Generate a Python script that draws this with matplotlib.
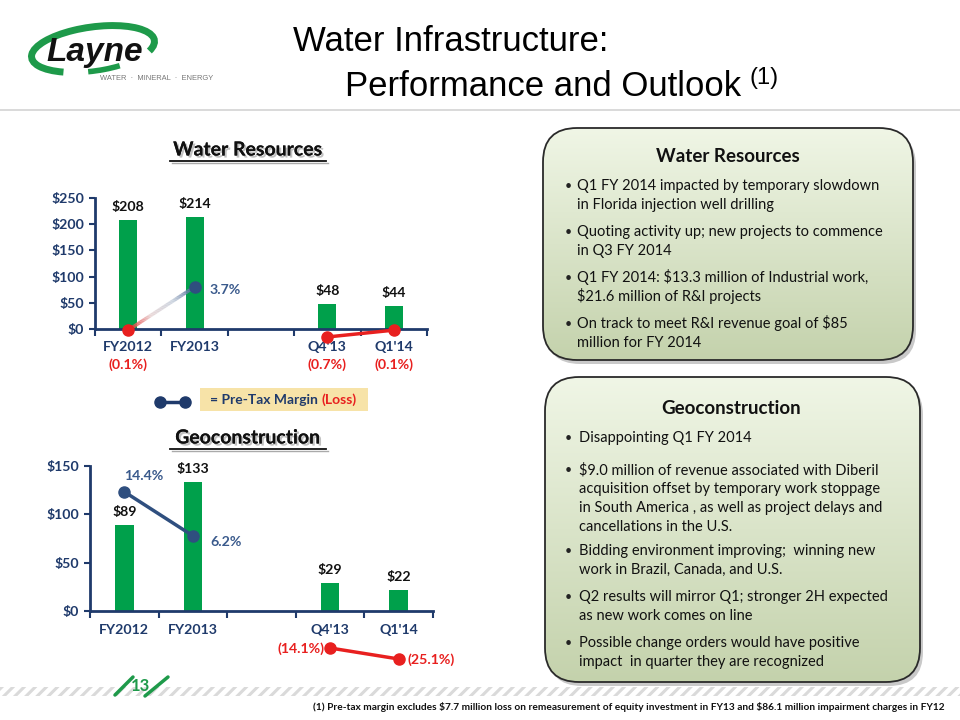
import numpy as np
import matplotlib
matplotlib.use("Agg")
import matplotlib.pyplot as plt
from matplotlib.patches import FancyBboxPatch, Rectangle, Arc
from matplotlib.collections import LineCollection
from matplotlib.colors import LinearSegmentedColormap
import matplotlib.patheffects as pe

plt.rcParams['font.family'] = ['Lato', 'DejaVu Sans']
plt.rcParams['hatch.linewidth'] = 2.2

# ---------------- data ----------------
slots = ["FY2012", "FY2013", "", "Q4'13", "Q1'14"]
wr_revenue = [208, 214, np.nan, 48, 44]
wr_margin = [-0.1, 3.7, np.nan, -0.7, -0.1]
geo_revenue = [89, 133, np.nan, 29, 22]
geo_margin = [14.4, 6.2, np.nan, -14.1, -25.1]
wr_yticks = [0, 50, 100, 150, 200, 250]
geo_yticks = [0, 50, 100, 150]

wr_box_title = "Water Resources"
wr_bullets = [
    "Q1 FY 2014 impacted by temporary slowdown\nin Florida injection well drilling",
    "Quoting activity up; new projects to commence\nin Q3 FY 2014",
    "Q1 FY 2014: $13.3 million of Industrial work,\n$21.6 million of R&I projects",
    "On track to meet R&I revenue goal of $85\nmillion for FY 2014",
]
geo_box_title = "Geoconstruction"
geo_bullets = [
    "Disappointing Q1 FY 2014",
    "$9.0 million of revenue associated with Diberil\nacquisition offset by temporary work stoppage\nin South America , as well as project delays and\ncancellations in the U.S.",
    "Bidding environment improving;  winning new\nwork in Brazil, Canada, and U.S.",
    "Q2 results will mirror Q1; stronger 2H expected\nas new work comes on line",
    "Possible change orders would have positive\nimpact  in quarter they are recognized",
]
footnote = ("(1) Pre-tax margin excludes $7.7 million loss on remeasurement of equity "
            "investment in FY13 and $86.1 million impairment charges in FY12")

# ---------------- style ----------------
GREEN = "#00A04B"
NAVY = "#1F3A6B"
LBLUE = "#3A5A8C"
RED = "#E8201F"
W, H = 960, 720


def esc(s):
    return s.replace("$", r"\$")


def rect(x0, y0, x1, y1):
    return [x0 / W, 1 - y1 / H, (x1 - x0) / W, (y1 - y0) / H]


def pct(v):
    return f"{v:.1f}%" if v >= 0 else f"({-v:.1f}%)"


fig = plt.figure(figsize=(9.6, 7.2), dpi=100)
canvas = fig.add_axes([0, 0, 1, 1], zorder=0)
canvas.axis('off')

# ---------------- header ----------------
canvas.text(293, 51, "Water Infrastructure:", fontsize=25,
            family=['Liberation Sans', 'DejaVu Sans'], va='baseline', color='black')
t2 = canvas.text(345, 96, "Performance and Outlook", fontsize=25,
                 family=['Liberation Sans', 'DejaVu Sans'], va='baseline', color='black')
canvas.annotate("(1)", xy=(1, 0), xycoords=t2, xytext=(8, 14), textcoords='offset pixels',
                fontsize=17, family=['Liberation Sans', 'DejaVu Sans'], va='bottom')
canvas.plot([0, 960], [110, 110], color='#D3D3D3', lw=1.2)

# logo
canvas.add_patch(Arc((93, 49), 124, 44, angle=-8, theta1=150, theta2=360 + 10,
                     color='#1E9A4A', lw=5))
canvas.add_patch(Arc((93, 49), 124, 44, angle=-8, theta1=40, theta2=110,
                     color='#1E9A4A', lw=4))
canvas.text(95, 53, "Layne", fontsize=24, style='italic', weight='bold',
            family=['Liberation Sans Narrow', 'Liberation Sans', 'DejaVu Sans'],
            ha='center', va='center', color='#111111')
canvas.text(100, 78, "WATER  ·  MINERAL  ·  ENERGY", fontsize=5.4,
            family=['Liberation Sans', 'DejaVu Sans'], color='#777777', va='center')

# ---------------- chart titles / legend ----------------
for (yc, title) in [(150, "Water Resources"), (438, "Geoconstruction")]:
    canvas.text(248, yc, title, fontsize=14, weight='bold', ha='center', va='center',
                color='#111111',
                path_effects=[pe.withSimplePatchShadow(offset=(1.5, -1.5), shadow_rgbFace='#999999', alpha=0.6),
                              pe.Normal()])
    canvas.plot([170, 326], [yc + 11, yc + 11], color='#111111', lw=1.3)
    canvas.plot([171.5, 327.5], [yc + 12.5, yc + 12.5], color='#AAAAAA', lw=1.0, zorder=1)

canvas.plot([160, 185], [402, 402], color=NAVY, lw=2.5, marker='o', ms=8)
canvas.add_patch(Rectangle((200, 388), 168, 23, fc='#F7E3A8', ec='none'))
lt = canvas.text(210, 400, "= Pre-Tax Margin ", fontsize=10, weight='bold', color=NAVY, va='center')
canvas.annotate("(Loss)", xy=(1, 0.5), xycoords=lt, xytext=(0, 0), textcoords='offset pixels',
                fontsize=10, weight='bold', color=RED, va='center')

# ---------------- right boxes ----------------
cmap = LinearSegmentedColormap.from_list('g', ['#F0F6E6', '#C4D2AC'])


def grad_box(x0, y0, x1, y1, r=34):
    w, h = x1 - x0, y1 - y0
    sh = FancyBboxPatch((x0 + 3, y0 + 4), w, h, boxstyle=f"round,pad=0,rounding_size={r}",
                        fc='#888888', ec='none', alpha=0.45, zorder=1)
    canvas.add_patch(sh)
    border = FancyBboxPatch((x0, y0), w, h, boxstyle=f"round,pad=0,rounding_size={r}",
                            fc='none', ec='#2A2A2A', lw=1.3, zorder=3)
    canvas.add_patch(border)
    grad = np.linspace(0, 1, 256).reshape(-1, 1)
    im = canvas.imshow(grad, cmap=cmap, extent=(x0, x1, y1, y0), aspect='auto', zorder=2)
    im.set_clip_path(border)


LINE_H = 19


def box_text(title, tx, ty, bullets, ys, bx, textx):
    canvas.text(tx, ty, title, fontsize=13.5, weight='bold', ha='center', va='center',
                color='#111111', zorder=4)
    for b, y in zip(bullets, ys):
        canvas.text(bx, y, "•", fontsize=9, va='center', ha='left', color='#222222', zorder=4)
        for i, line in enumerate(b.split("\n")):
            canvas.text(textx, y + 4 + i * LINE_H, line, fontsize=10.5, va='baseline', ha='left',
                        color='#111111', zorder=4, parse_math=False)


grad_box(543, 128, 913, 360)
box_text(wr_box_title, 728, 156, wr_bullets, [186, 232, 278, 324], 565, 577)
grad_box(545, 377, 920, 682)
box_text(geo_box_title, 731, 408, geo_bullets, [438, 470, 551, 597, 643], 565, 579)

# ---------------- footer ----------------
canvas.add_patch(Rectangle((0, 687), 960, 9, fc='none', ec='#DADADA', hatch='///', lw=0))
canvas.plot([115, 133], [695, 677], color='#1E9A4A', lw=2.5, solid_capstyle='round')
canvas.plot([145, 168], [696, 677], color='#1E9A4A', lw=2.5, solid_capstyle='round')
canvas.text(140, 686, "13", fontsize=12, weight='bold', color='#1E9A4A', ha='center', va='center')
canvas.text(945, 707, footnote, fontsize=7.3, weight='bold', ha='right', va='center',
            color='#111111', parse_math=False)

canvas.set_xlim(0, W)
canvas.set_ylim(H, 0)

# ---------------- charts ----------------
x = np.arange(len(slots))


def make_chart(box, revenue, yticks, ylim):
    ax = fig.add_axes(rect(*box), zorder=2)
    ax.patch.set_visible(False)
    ax.bar(x, revenue, width=0.27, color=GREEN, zorder=2)
    for xi, v in zip(x, revenue):
        if not np.isnan(v):
            ax.annotate(esc(f"${v:.0f}"), xy=(xi, v), xytext=(0, 7), textcoords='offset pixels',
                        ha='center', va='bottom', fontsize=10.2, weight='bold', color='#111111')
    ax.set_xlim(-0.5, len(slots) - 0.5)
    ax.set_ylim(*ylim)
    ax.set_yticks(yticks)
    ax.set_yticklabels([esc(f"${t}") for t in yticks])
    ax.set_xticks(x)
    ax.set_xticklabels(slots)
    ax.set_xticks(np.arange(-0.5, len(slots), 1.0), minor=True)
    ax.tick_params(axis='x', which='major', length=0, pad=9, labelsize=10.2, labelcolor=NAVY)
    ax.tick_params(axis='x', which='minor', length=5, width=1.5, color=NAVY, direction='out')
    ax.tick_params(axis='y', length=4, width=1.5, color=NAVY, labelsize=10.2, labelcolor=NAVY, pad=4)
    for lab in ax.get_xticklabels() + ax.get_yticklabels():
        lab.set_fontweight('bold')
    for s in ['top', 'right']:
        ax.spines[s].set_visible(False)
    for s in ['left', 'bottom']:
        ax.spines[s].set_color(NAVY)
        ax.spines[s].set_linewidth(2)
    return ax


def pct_label(ax, xi, v, off, ha, color):
    ax.annotate(pct(v), xy=(xi, v), xytext=off, textcoords='offset pixels', ha=ha, va='center',
                fontsize=10.2, weight='bold', color=color, annotation_clip=False)


# ---- Water Resources ----
ax1 = make_chart((95, 198, 427, 329), wr_revenue, wr_yticks, (0, 250))
axm = ax1.twinx()
axm.set_ylim(0, 11.5)
axm.axis('off')
# gradient-coloured segment FY2012 -> FY2013
x0, y0, x1, y1 = x[0], wr_margin[0], x[1], wr_margin[1]
tt = np.linspace(0, 1, 80)
px = x0 + (x1 - x0) * tt
py = y0 + (y1 - y0) * tt
segs = np.stack([np.column_stack([px[:-1], py[:-1]]), np.column_stack([px[1:], py[1:]])], axis=1)
gcmap = LinearSegmentedColormap.from_list('rb', [RED, '#E9D6D6', '#C9D2DE', LBLUE])
lc = LineCollection(segs, colors=gcmap(tt[:-1]), linewidths=2.5, clip_on=False, zorder=3)
axm.add_collection(lc)
axm.plot([x[3], x[4]], [wr_margin[3], wr_margin[4]], color=RED, lw=2.5, clip_on=False, zorder=3)
for xi, v in zip(x, wr_margin):
    if np.isnan(v):
        continue
    axm.plot([xi], [v], 'o', ms=8, color=(RED if v < 0 else '#2F4F7F'), clip_on=False, zorder=4)
pct_label(axm, x[1], wr_margin[1], (15, -3), 'left', LBLUE)
for xi, v in zip(x, wr_margin):
    if not np.isnan(v) and v < 0:
        ax1.annotate(pct(v), xy=(xi, 0), xycoords=('data', 'axes fraction'), xytext=(0, -36),
                     textcoords='offset pixels', ha='center', va='center', fontsize=10.2,
                     weight='bold', color=RED, annotation_clip=False)

# ---- Geoconstruction ----
ax2 = make_chart((90, 466, 433, 611), geo_revenue, geo_yticks, (0, 150))
axp = ax2.twinx()
axp.set_ylim(-7.8, 19.2)
axp.axis('off')
axl = fig.add_axes(rect(90, 640, 433, 665), zorder=3)
axl.set_xlim(-0.5, len(slots) - 0.5)
axl.set_ylim(-31.1, -6.1)
axl.axis('off')
axp.plot([x[0], x[1]], [geo_margin[0], geo_margin[1]], color='#2F4F7F', lw=2.5, marker='o', ms=8,
         clip_on=False, zorder=4)
axl.plot([x[3], x[4]], [geo_margin[3], geo_margin[4]], color=RED, lw=2.5, marker='o', ms=8,
         clip_on=False, zorder=4)
pct_label(axp, x[0], geo_margin[0], (0, 16), 'left', LBLUE)
pct_label(axp, x[1], geo_margin[1], (17, -6), 'left', LBLUE)
pct_label(axl, x[3], geo_margin[3], (-6, -1), 'right', RED)
pct_label(axl, x[4], geo_margin[4], (9, -1), 'left', RED)

fig.savefig("out.png", dpi=100)
